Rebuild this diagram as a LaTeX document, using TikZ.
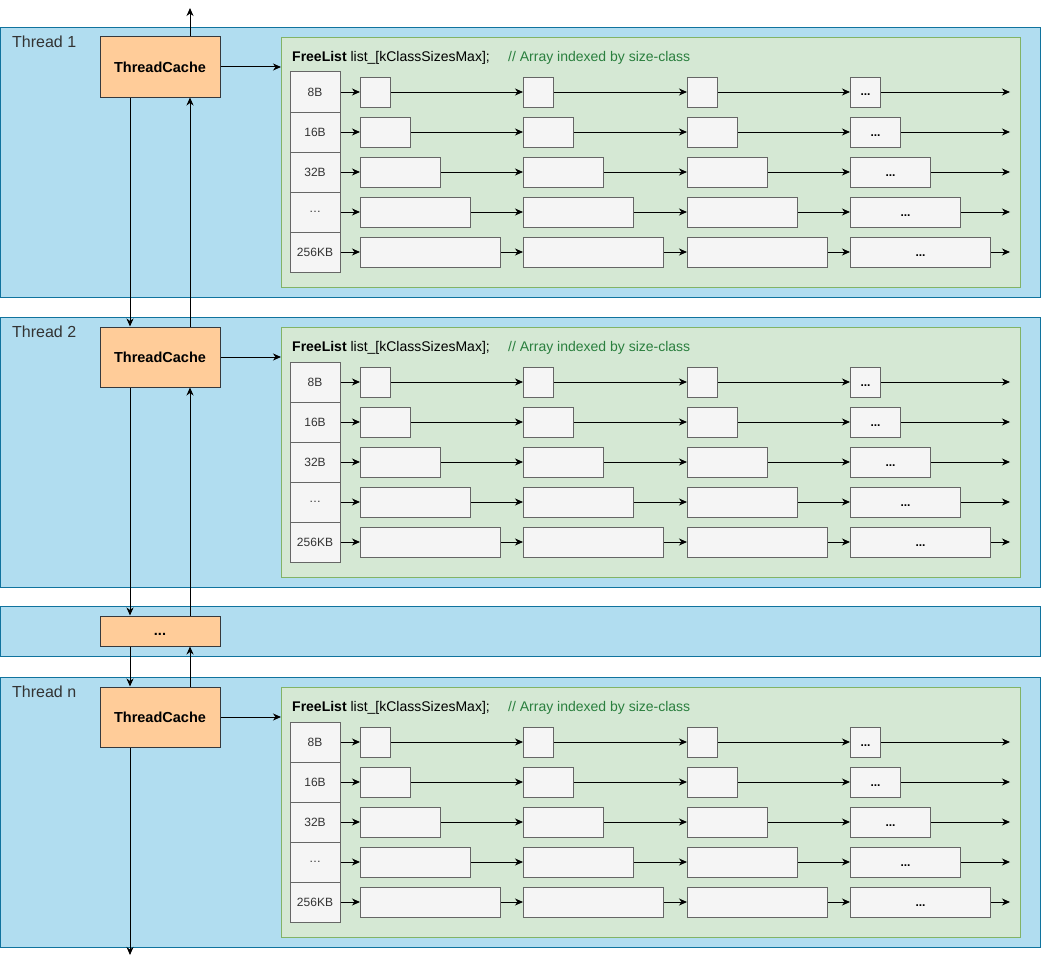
\documentclass[tikz,border=0pt]{standalone}
\usepackage{fontspec}
\setmainfont{Liberation Sans}
\usetikzlibrary{arrows.meta}
\definecolor{panelfill}{HTML}{B1DDF0}
\definecolor{paneldraw}{HTML}{10739E}
\definecolor{tcfill}{HTML}{FFCC99}
\definecolor{tcdraw}{HTML}{36393D}
\definecolor{grfill}{HTML}{D5E8D4}
\definecolor{grdraw}{HTML}{82B366}
\definecolor{blkfill}{HTML}{F5F5F5}
\definecolor{blkdraw}{HTML}{666666}
\definecolor{cmtcol}{HTML}{2A7F3E}
\definecolor{lblcol}{HTML}{333333}
\tikzset{
  panel/.style={draw=paneldraw, fill=panelfill, line width=1pt, inner sep=0pt, anchor=north west, minimum width=1040pt},
  tcbox/.style={draw=tcdraw, fill=tcfill, line width=1pt, inner sep=0pt, minimum width=120pt, font=\fontsize{14.5}{16}\selectfont\bfseries},
  greenbox/.style={draw=grdraw, fill=grfill, line width=1pt, inner sep=0pt, anchor=north west, minimum width=739pt, minimum height=250pt},
  sizecell/.style={draw=blkdraw, fill=blkfill, line width=1pt, inner sep=0pt, minimum width=50pt, minimum height=40pt, font=\fontsize{12}{14}\selectfont, text=lblcol},
  blk/.style={draw=blkdraw, fill=blkfill, line width=1pt, inner sep=0pt, anchor=west, minimum height=30pt, font=\fontsize{12}{14}\selectfont\bfseries},
  threadlbl/.style={anchor=west, inner sep=0pt, font=\fontsize{16}{18}\selectfont, text=lblcol},
  hdr/.style={anchor=west, inner sep=0pt, font=\fontsize{14}{16}\selectfont},
  conn/.style={line width=1pt, -{Stealth[length=8pt,width=7pt,inset=2.5pt]}}
}
\newcommand{\lowdots}{\smash{\raisebox{-4pt}{...}}}
\newcommand{\threadpanel}[3]{%
  \node[panel, minimum height=270pt] (p#1) at (0,#2) {};
  \node[threadlbl] (lbl#1) at (12,#2+15) {#3};
  \node[tcbox, minimum height=60pt] (tc#1) at (160,#2+40) {ThreadCache};
  \node[greenbox] (g#1) at (281,#2+10) {};
  \node[hdr] (h#1) at (292,#2+31) {\textbf{FreeList} list\_[kClassSizesMax];};
  \node[hdr, text=cmtcol] (c#1) at (508,#2+31) {// Array indexed by size-class};
  \draw[conn] (tc#1.east) -- (tc#1.east -| g#1.west);
  \foreach \lab/\w [count=\r] in {8B/30,16B/50,32B/80,{\ldots}/110,256KB/140}{%
    \pgfmathsetmacro{\yy}{#2+65+40*(\r-1)}
    \node[sizecell] (s#1r\r) at (315,\yy) {\lab};
    \node[blk, minimum width=\w pt] (b#1r\r c1) at (360,\yy) {};
    \node[blk, minimum width=\w pt] (b#1r\r c2) at (523,\yy) {};
    \node[blk, minimum width=\w pt] (b#1r\r c3) at (687,\yy) {};
    \node[blk, minimum width=\w pt] (b#1r\r c4) at (850,\yy) {\lowdots};
    \coordinate (e#1r\r) at (1010,\yy);
    \draw[conn] (s#1r\r.east) -- (b#1r\r c1.west);
    \draw[conn] (b#1r\r c1.east) -- (b#1r\r c2.west);
    \draw[conn] (b#1r\r c2.east) -- (b#1r\r c3.west);
    \draw[conn] (b#1r\r c3.east) -- (b#1r\r c4.west);
    \draw[conn] (b#1r\r c4.east) -- (e#1r\r);
  }%
}
\begin{document}
\begin{tikzpicture}[x=1pt, y=-1pt]
  \useasboundingbox (0,0) rectangle (1041,966);
  \threadpanel{1}{27}{Thread 1}
  \threadpanel{2}{317}{Thread 2}
  \node[panel, minimum height=50pt] (pm) at (0,606) {};
  \node[tcbox, minimum height=30pt] (tcm) at (160,631) {\lowdots};
  \threadpanel{3}{677}{Thread n}
  \coordinate (topend) at (190,8);
  \coordinate (botend) at (130,955);
  \draw[conn] ([xshift=30pt]tc1.north) -- (topend);
  \draw[conn] ([xshift=-30pt]tc1.south) -- ([xshift=-30pt]tc2.north);
  \draw[conn] ([xshift=30pt]tc2.north) -- ([xshift=30pt]tc1.south);
  \draw[conn] ([xshift=-30pt]tc2.south) -- ([xshift=-30pt]tcm.north);
  \draw[conn] ([xshift=30pt]tcm.north) -- ([xshift=30pt]tc2.south);
  \draw[conn] ([xshift=-30pt]tcm.south) -- ([xshift=-30pt]tc3.north);
  \draw[conn] ([xshift=30pt]tc3.north) -- ([xshift=30pt]tcm.south);
  \draw[conn] ([xshift=-30pt]tc3.south) -- (botend);
\end{tikzpicture}
\end{document}
